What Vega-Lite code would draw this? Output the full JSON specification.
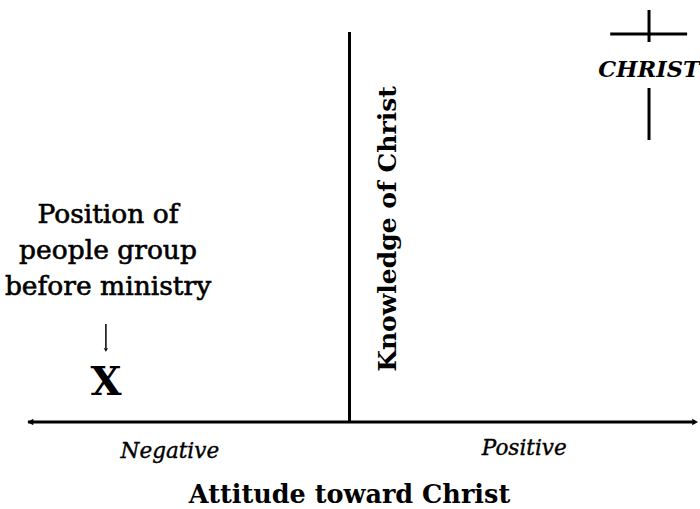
{
  "$schema": "https://vega.github.io/schema/vega-lite/v6.json",
  "width": 700,
  "height": 509,
  "padding": 0,
  "autosize": {"type": "fit", "contains": "padding"},
  "background": "white",
  "config": {"view": {"stroke": null}},
  "datasets": {
    "segments": [
      {"part": "attitude axis", "x1": -92, "y1": 0, "x2": 98.6, "y2": 0, "w": "thick"},
      {"part": "knowledge axis", "x1": 0, "y1": 0, "x2": 0, "y2": 390, "w": "thick"},
      {"part": "cross top", "x1": 85.7, "y1": 380, "x2": 85.7, "y2": 412, "w": "thick"},
      {"part": "cross bar", "x1": 74.6, "y1": 388, "x2": 96.6, "y2": 388, "w": "thick"},
      {"part": "cross bottom", "x1": 85.7, "y1": 282, "x2": 85.7, "y2": 334, "w": "thick"},
      {"part": "pointer", "x1": -69.7, "y1": 74, "x2": -69.7, "y2": 98, "w": "thin"}
    ],
    "heads": [
      {"dir": "left", "x": -91.3, "y": 0},
      {"dir": "right", "x": 98.9, "y": 0}
    ],
    "pointerhead": [{"x": -69.7, "y": 72}],
    "boldlabels": [
      {"label": "Position of", "x": -69.1, "y": 207},
      {"label": "people group", "x": -69.1, "y": 171},
      {"label": "before ministry", "x": -69.1, "y": 135}
    ],
    "italics": [
      {"label": "Negative", "x": -51.4, "y": -30},
      {"label": "Positive", "x": 50, "y": -27}
    ]
  },
  "layer": [
    {
      "data": {"name": "segments"},
      "mark": {"type": "rule", "color": "black", "strokeCap": "butt"},
      "encoding": {
        "x": {"field": "x1", "type": "quantitative", "scale": {"domain": [-100, 100], "nice": false, "zero": false}, "axis": null},
        "x2": {"field": "x2"},
        "y": {"field": "y1", "type": "quantitative", "scale": {"domain": [-87, 422], "nice": false, "zero": false}, "axis": null},
        "y2": {"field": "y2"},
        "strokeWidth": {"field": "w", "type": "nominal", "scale": {"domain": ["thick", "thin"], "range": [3, 1.5]}, "legend": null}
      }
    },
    {
      "data": {"name": "heads"},
      "mark": {"type": "point", "filled": true, "color": "black", "opacity": 1, "size": 45},
      "encoding": {
        "x": {"field": "x", "type": "quantitative"},
        "y": {"field": "y", "type": "quantitative"},
        "shape": {"field": "dir", "type": "nominal", "scale": {"domain": ["left", "right"], "range": ["triangle-left", "triangle-right"]}, "legend": null}
      }
    },
    {
      "data": {"name": "pointerhead"},
      "mark": {"type": "point", "filled": true, "color": "black", "opacity": 1, "size": 18, "shape": "triangle-down"},
      "encoding": {
        "x": {"field": "x", "type": "quantitative"},
        "y": {"field": "y", "type": "quantitative"}
      }
    },
    {
      "data": {"name": "boldlabels"},
      "mark": {"type": "text", "font": "DejaVu Serif", "fontSize": 26.5, "fontWeight": "normal", "stroke": "black", "strokeWidth": 0.6, "align": "center", "baseline": "middle", "color": "black"},
      "encoding": {
        "x": {"field": "x", "type": "quantitative"},
        "y": {"field": "y", "type": "quantitative"},
        "text": {"field": "label"}
      }
    },
    {
      "data": {"name": "italics"},
      "mark": {"type": "text", "font": "DejaVu Serif", "fontSize": 21.5, "fontStyle": "italic", "stroke": "black", "strokeWidth": 0.4, "align": "center", "baseline": "middle", "color": "black"},
      "encoding": {
        "x": {"field": "x", "type": "quantitative"},
        "y": {"field": "y", "type": "quantitative"},
        "text": {"field": "label"}
      }
    },
    {
      "data": {"values": [{"label": "Attitude toward Christ", "x": 0, "y": -73}]},
      "mark": {"type": "text", "font": "DejaVu Serif", "fontSize": 25.5, "fontWeight": "bold", "align": "center", "baseline": "middle", "color": "black"},
      "encoding": {
        "x": {"field": "x", "type": "quantitative"},
        "y": {"field": "y", "type": "quantitative"},
        "text": {"field": "label"}
      }
    },
    {
      "data": {"values": [{"label": "Knowledge of Christ", "x": 10.9, "y": 193}]},
      "mark": {"type": "text", "font": "DejaVu Serif", "fontSize": 25, "fontWeight": "bold", "angle": 270, "align": "center", "baseline": "middle", "color": "black"},
      "encoding": {
        "x": {"field": "x", "type": "quantitative"},
        "y": {"field": "y", "type": "quantitative"},
        "text": {"field": "label"}
      }
    },
    {
      "data": {"values": [{"label": "CHRIST", "x": 85.7, "y": 352}]},
      "mark": {"type": "text", "font": "DejaVu Serif", "fontSize": 22.5, "fontWeight": "bold", "fontStyle": "italic", "align": "center", "baseline": "middle", "color": "black"},
      "encoding": {
        "x": {"field": "x", "type": "quantitative"},
        "y": {"field": "y", "type": "quantitative"},
        "text": {"field": "label"}
      }
    },
    {
      "data": {"values": [{"label": "X", "x": -69.7, "y": 39}]},
      "mark": {"type": "text", "font": "DejaVu Serif", "fontSize": 40, "fontWeight": "bold", "align": "center", "baseline": "middle", "color": "black"},
      "encoding": {
        "x": {"field": "x", "type": "quantitative"},
        "y": {"field": "y", "type": "quantitative"},
        "text": {"field": "label"}
      }
    }
  ]
}
